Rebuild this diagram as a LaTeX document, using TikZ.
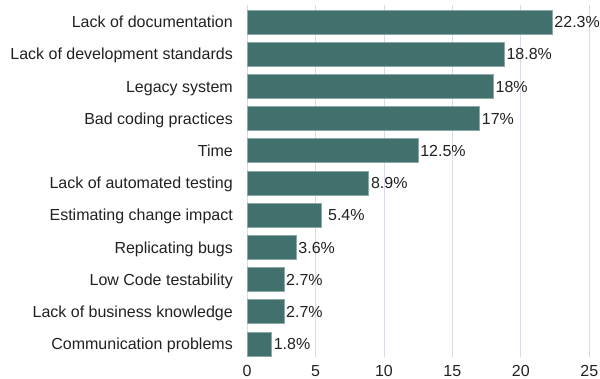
\documentclass[tikz,border=0pt]{standalone}
\usepackage{fontspec}
\setmainfont{Liberation Sans}
\definecolor{barteal}{HTML}{41706D}
\definecolor{gridblue}{HTML}{D5DCE6}
\definecolor{inkgray}{HTML}{212121}
\begin{document}
\begin{tikzpicture}[x=1pt,y=-1pt,
  bar/.style={fill=barteal,draw=barteal!60!white,line width=0.7pt},
  cat/.style={anchor=base east,inner sep=0pt,text=inkgray,font=\fontsize{16}{17}\selectfont},
  pct/.style={anchor=base west,inner sep=0pt,text=inkgray,font=\fontsize{16}{17}\selectfont},
  tick/.style={anchor=base,inner sep=0pt,text=inkgray,font=\fontsize{16}{17}\selectfont}]
  \useasboundingbox (-247,0) rectangle (353,379);
  \foreach \t in {5,10,...,25}
    \draw[gridblue,line width=0.8pt] ({\t*13.69},5) -- ({\t*13.69},357);
  \draw[gridblue,line width=0.8pt] (0,5) -- (0,357);
  \foreach \t in {0,5,...,25}
    \node[tick] (t\t) at ({\t*13.69},377) {\t};

  \foreach \i/\v/\g/\name in {0/22.3/2/Lack of documentation,
      1/18.8/2/Lack of development standards, 2/18/2/Legacy system,
      3/17/2/Bad coding practices, 4/12.5/2/Time,
      5/8.9/2/Lack of automated testing, 6/5.4/7/Estimating change impact,
      7/3.6/2/Replicating bugs, 8/2.7/2/Low Code testability,
      9/2.7/2/Lack of business knowledge, 10/1.8/2/Communication problems}
  {
    \draw[bar] (0,{10+\i*32.2}) rectangle ({\v*13.69},{34+\i*32.2});
    \node[cat] (c\i) at (-14,{27.8+\i*32.2}) {\name};
    \node[pct] (p\i) at ({\v*13.69+\g},{27.8+\i*32.2}) {\v\%};
  }
\end{tikzpicture}
\end{document}
